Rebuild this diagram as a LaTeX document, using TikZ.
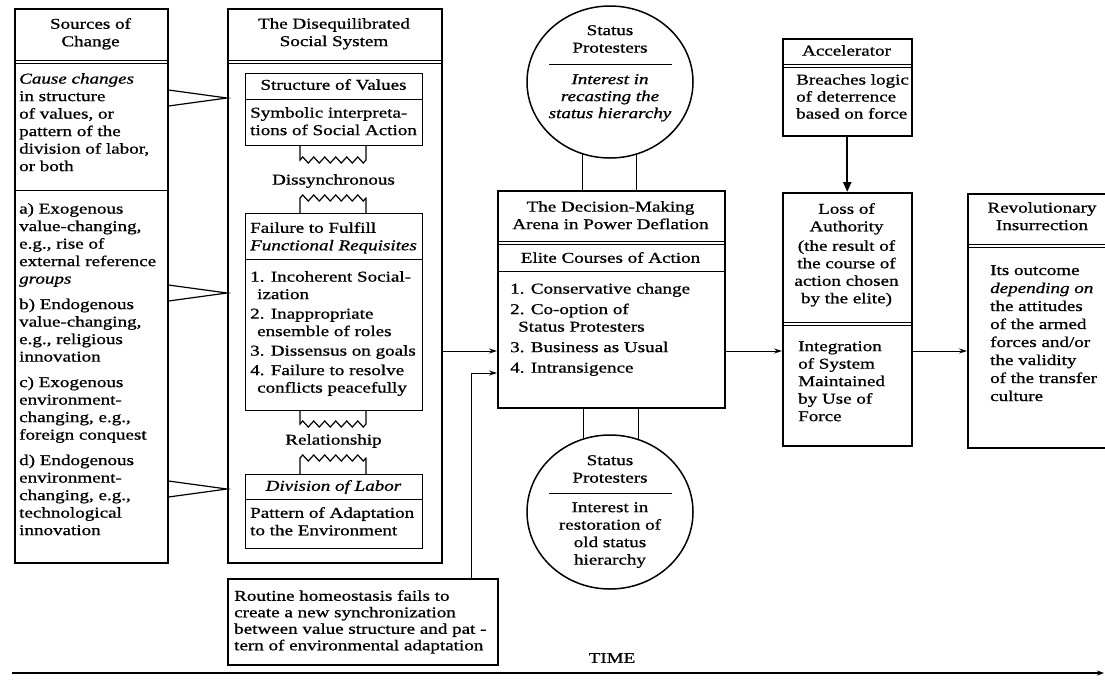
\documentclass[tikz,border=0pt]{standalone}
\usepackage{fontspec}
\setmainfont{Liberation Serif}[FakeStretch=1.27, FakeBold=0.9]
\usetikzlibrary{arrows.meta, decorations.pathmorphing, shapes.geometric}
\begin{document}
\begin{tikzpicture}[x=1pt, y=-1pt,
  frame/.style={draw, line width=1.5pt, inner sep=0pt, anchor=north west},
  inbox/.style={draw, line width=1.3pt, inner sep=0pt, anchor=north west},
  tx/.style={inner sep=0pt, font=\fontsize{15}{17.5}\selectfont},
  div/.style={line width=0.9pt},
  conn/.style={line width=1.2pt},
  arr/.style={line width=1pt, -{Stealth[length=8pt, width=5pt]}},
  bigarr/.style={line width=2.2pt, -{Triangle[length=10pt, width=8pt]}},
  zz/.style={decorate, decoration={zigzag, segment length=11pt, amplitude=3pt}},
  circ/.style={draw, ellipse, line width=1.5pt, inner sep=0pt}]
\useasboundingbox (0,0) rectangle (1105,681);

% ---------- Sources of Change ----------
\node[frame, minimum width=153pt, minimum height=554pt] (src) at (14,8) {};
\node[tx, anchor=north, align=center] (srcH) at (90.5,18) {Sources of\\Change};
\draw[div] (src.west |- 0,60) -- (src.east |- 0,60);
\draw[div] (src.west |- 0,63) -- (src.east |- 0,63);
\node[tx, anchor=north west, align=left] (srcA) at (19,73) {\textit{Cause changes}\\in structure\\of values, or\\pattern of the\\division of labor,\\or both};
\draw[div] (src.west |- 0,190) -- (src.east |- 0,190);
\node[tx, anchor=north west, align=left] (srcB) at (19,203) {a) Exogenous\\value-changing,\\e.g., rise of\\external reference\\\textit{groups}\\[8pt]b) Endogenous\\value-changing,\\e.g., religious\\innovation\\[8pt]c) Exogenous\\environment-\\changing, e.g.,\\foreign conquest\\[8pt]d) Endogenous\\environment-\\changing, e.g.,\\technological\\innovation};

% ---------- The Disequilibrated Social System ----------
\node[frame, minimum width=214pt, minimum height=554pt] (dis) at (227,8) {};
\node[tx, anchor=north, align=center] (disH) at (334,18) {The Disequilibrated\\Social System};
\draw[div] (dis.west |- 0,60) -- (dis.east |- 0,60);
\draw[div] (dis.west |- 0,63) -- (dis.east |- 0,63);

\node[inbox, minimum width=177pt, minimum height=72pt] (val) at (245,73) {};
\node[tx, anchor=north] (valH) at (333.5,79) {Structure of Values};
\draw[div] (val.west |- 0,99) -- (val.east |- 0,99);
\node[tx, anchor=north west, align=left] (valT) at (250,107) {Symbolic interpreta-\\tions of Social Action};

\draw[conn] (300,145) -- (300,160) decorate[zz]{-- (366,160)} -- (366,145);
\node[tx] (dsy) at (333.5,181) {Dissynchronous};
\draw[conn] (300,213) -- (300,198) decorate[zz]{-- (366,198)} -- (366,213);

\node[inbox, minimum width=177pt, minimum height=197pt] (fail) at (245,213) {};
\node[tx, anchor=north west, align=left] (failH) at (250,222) {Failure to Fulfill\\\textit{Functional Requisites}};
\draw[div] (fail.west |- 0,259) -- (fail.east |- 0,259);
\node[tx, anchor=north west, align=left] (failT) at (250,271) {1. Incoherent Social-\\\hspace*{7pt}ization\\[2pt]2. Inappropriate\\\hspace*{7pt}ensemble of roles\\[2pt]3. Dissensus on goals\\[2pt]4. Failure to resolve\\\hspace*{7pt}conflicts peacefully};

\draw[conn] (300,410) -- (300,424) decorate[zz]{-- (366,424)} -- (366,410);
\node[tx] (rel) at (333.5,441) {Relationship};
\draw[conn] (300,474) -- (300,458) decorate[zz]{-- (366,458)} -- (366,474);

\node[inbox, minimum width=177pt, minimum height=74pt] (lab) at (245,474) {};
\node[tx, anchor=north] (labH) at (333.5,480) {\textit{Division of Labor}};
\draw[div] (lab.west |- 0,499) -- (lab.east |- 0,499);
\node[tx, anchor=north west, align=left] (labT) at (250,507) {Pattern of Adaptation\\to the Environment};

% wedges
\coordinate (w1a) at (0,90);  \coordinate (w1) at (0,98);  \coordinate (w1b) at (0,106);
\coordinate (w2a) at (0,285); \coordinate (w2) at (0,293); \coordinate (w2b) at (0,301);
\coordinate (w3a) at (0,481); \coordinate (w3) at (0,489); \coordinate (w3b) at (0,497);
\draw[conn] (src.east |- w1a) -- (dis.west |- w1) -- (src.east |- w1b);
\draw[conn] (src.east |- w2a) -- (dis.west |- w2) -- (src.east |- w2b);
\draw[conn] (src.east |- w3a) -- (dis.west |- w3) -- (src.east |- w3b);

% ---------- Routine box ----------
\node[frame, minimum width=270pt, minimum height=86pt] (rout) at (227,578) {};
\node[tx, anchor=north west, align=left, font=\fontsize{15}{16.5}\selectfont] (routT) at (234,590) {Routine homeostasis fails to\\create a new synchronization\\between value structure and pat -\\tern of environmental adaptation};

% ---------- Decision-making arena ----------
\node[frame, minimum width=227pt, minimum height=217pt] (dec) at (497,190) {};
\node[tx, anchor=north, align=center] (decH) at (610.5,201) {The Decision-Making\\Arena in Power Deflation};
\draw[div] (dec.west |- 0,241) -- (dec.east |- 0,241);
\draw[div] (dec.west |- 0,244) -- (dec.east |- 0,244);
\node[tx, anchor=north] (decE) at (610.5,252) {Elite Courses of Action};
\draw[div] (dec.west |- 0,271) -- (dec.east |- 0,271);
\node[tx, anchor=north west, align=left] (decT) at (510,283) {1. Conservative change\\[3pt]2. Co-option of\\\hspace*{8pt}Status Protesters\\[3pt]3. Business as Usual\\[3pt]4. Intransigence};

% ---------- Status protesters circles ----------
\node[circ, minimum width=166pt, minimum height=152pt] (spT) at (610,82) {};
\node[tx, anchor=north, align=center] (spTH) at (610,25) {Status\\Protesters};
\draw[div] (549,64) -- (672,64);
\node[tx, anchor=north, align=center, font=\fontsize{15}{17}\selectfont\itshape] (spTT) at (610,74) {Interest in\\recasting the\\status hierarchy};
\draw[conn] (spT.249.4) -- (spT.249.4 |- dec.north);
\draw[conn] (spT.290.6) -- (spT.290.6 |- dec.north);

\node[circ, minimum width=166pt, minimum height=154pt] (spB) at (610,512) {};
\node[tx, anchor=north, align=center] (spBH) at (610,455) {Status\\Protesters};
\draw[div] (549,493) -- (672,493);
\node[tx, anchor=north, align=center] (spBT) at (610,502) {Interest in\\restoration of\\old status\\hierarchy};
\draw[conn] (dec.south -| spB.110.6) -- (spB.110.6);
\draw[conn] (dec.south -| spB.69.4) -- (spB.69.4);

% ---------- Accelerator ----------
\node[frame, minimum width=129pt, minimum height=97pt] (acc) at (782,38) {};
\node[tx, anchor=north] (accH) at (846.5,45) {Accelerator};
\draw[div] (acc.west |- 0,64) -- (acc.east |- 0,64);
\draw[div] (acc.west |- 0,67) -- (acc.east |- 0,67);
\node[tx, anchor=north west, align=left, font=\fontsize{15}{17}\selectfont] (accT) at (796,74) {Breaches logic\\of deterrence\\based on force};

% ---------- Loss of Authority ----------
\node[frame, minimum width=129pt, minimum height=253pt] (loss) at (782,192) {};
\node[tx, anchor=north, align=center] (lossH) at (846.5,203) {Loss of\\Authority\\[2pt](the result of\\the course of\\action chosen\\by the elite)};
\draw[div] (loss.west |- 0,322) -- (loss.east |- 0,322);
\draw[div] (loss.west |- 0,325) -- (loss.east |- 0,325);
\node[tx, anchor=north west, align=left] (lossT) at (798,341) {Integration\\of System\\Maintained\\by Use of\\Force};
\draw[bigarr] (acc.south) -- (loss.north);

% ---------- Revolutionary Insurrection ----------
\node[frame, minimum width=150pt, minimum height=254pt] (rev) at (967,193) {};
\node[tx, anchor=north, align=center] (revH) at (1042,202) {Revolutionary\\Insurrection};
\draw[div] (rev.west |- 0,244) -- (rev.east |- 0,244);
\draw[div] (rev.west |- 0,247) -- (rev.east |- 0,247);
\node[tx, anchor=north west, align=left, font=\fontsize{15}{18}\selectfont] (revT) at (990,265) {Its outcome\\\textit{depending on}\\the attitudes\\of the armed\\forces and/or\\the validity\\of the transfer\\culture};

% ---------- connectors ----------
\coordinate (yA) at (0,351);
\coordinate (yB) at (0,373);
\coordinate (xR) at (471,0);
\draw[arr] (dis.east |- yA) -- (dec.west |- yA);
\draw[arr] (rout.north -| xR) |- (dec.west |- yB);
\draw[arr] (dec.east |- yA) -- (loss.west |- yA);
\draw[arr] (loss.east |- yA) -- (rev.west |- yA);

% ---------- time axis ----------
\coordinate (t0) at (12,673);
\coordinate (t1) at (1104,673);
\draw[line width=1.1pt, -{Stealth[length=7pt, width=5pt]}] (t0) -- (t1);
\node[tx] (time) at (612,658) {TIME};
\end{tikzpicture}
\end{document}
